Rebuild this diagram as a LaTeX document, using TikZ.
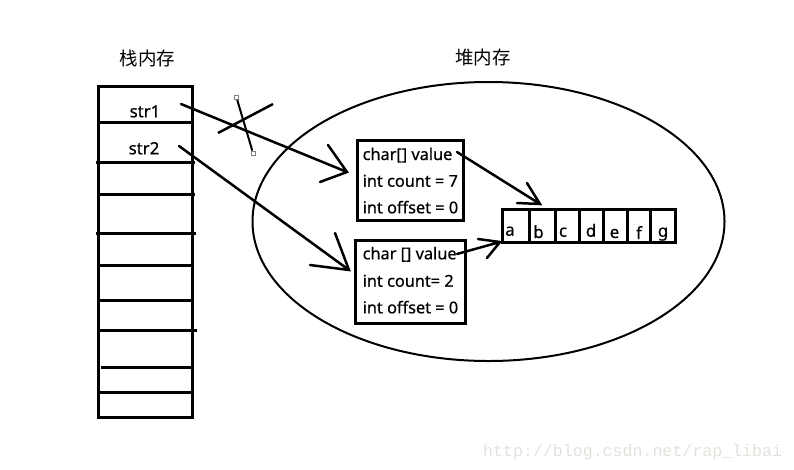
\documentclass[tikz,border=0pt]{standalone}
\usepackage{fontspec}
\setmainfont{Noto Sans}[FakeBold=0.6]
\newfontfamily\cjk{Noto Sans CJK SC}
\newfontfamily\wmono{Liberation Mono}
\definecolor{wmark}{RGB}{226,226,220}
\begin{document}
\begin{tikzpicture}[x=1pt,y=-1pt,
  frame/.style={draw, line width=3pt, inner sep=0pt, outer sep=0pt, anchor=north west},
  sep/.style={line width=3pt},
  shaft/.style={line width=2.5pt, line cap=round},
  field/.style={inner sep=0pt, anchor=base west, font=\fontsize{16.3}{18}\selectfont},
  cell/.style={inner sep=0pt, anchor=base, font=\fontsize{16.8}{18}\selectfont},
  title/.style={inner sep=0pt, font=\cjk\fontsize{18.5}{20}\selectfont},
  handle/.style={draw=gray, line width=0.8pt, fill=white, minimum size=4pt, inner sep=0pt}
]
\useasboundingbox (0,0) rectangle (794,469);

% titles
\node[title] (stacktitle) at (147.5,58) {栈内存};
\node[title] (heaptitle) at (483,57) {堆内存};

% heap ellipse
\draw[line width=2pt] (488.5,221.5) ellipse [x radius=236, y radius=139.5];

% stack
\node[frame, minimum width=94pt, minimum height=331.5pt] (stack) at (98.5,86) {};
\draw[sep] (98,122) -- (192,122);
\draw[sep] (96,162) -- (195,162);
\draw[sep] (98,194) -- (195,194);
\draw[sep] (96,233) -- (196,233);
\draw[sep] (99,265) -- (192,265);
\draw[sep] (99,300) -- (192,300);
\draw[sep] (99,330) -- (197,330);
\draw[sep] (101,367) -- (192,367);
\draw[sep] (99,392) -- (192,392);
\node[cell] (str1) at (145,117.3) {str1};
\node[cell] (str2) at (144,154.3) {str2};

% objects
\node[frame, minimum width=105.5pt, minimum height=80pt] (obj1) at (357.5,140.5) {};
\node[field] (o1a) at (362.5,160) {char[] value};
\node[field] (o1b) at (362.5,186.7) {int count = 7};
\node[field] (o1c) at (362.5,213.3) {int offset = 0};

\node[frame, minimum width=109.5pt, minimum height=83pt] (obj2) at (355.5,240.5) {};
\node[field] (o2a) at (362.5,259.3) {char [] value};
\node[field] (o2b) at (362.5,286.7) {int count= 2};
\node[field] (o2c) at (362.5,313.3) {int offset = 0};

% char array
\node[frame, minimum width=173pt, minimum height=33pt] (arr) at (502.5,209.5) {};
\foreach \x in {529.5,555,579,603.5,627,650.5} \draw[sep] (\x,209.5) -- (\x,242.5);
\node[cell] (ca) at (510,235.7) {a};
\node[cell] (cb) at (538.5,238) {b};
\node[cell] (cc) at (563,236.7) {c};
\node[cell] (cd) at (591,236.7) {d};
\node[cell] (ce) at (614.5,238) {e};
\node[cell] (cf) at (639,239) {f};
\node[cell] (cg) at (663,236.7) {g};

% arrow coordinates
\coordinate (s1) at (181,104);   \coordinate (t1) at (347,172);
\coordinate (h1a) at (328,145);  \coordinate (h1b) at (320,182);
\coordinate (s2) at (179,146);   \coordinate (t2) at (349,270);
\coordinate (h2a) at (335,233);  \coordinate (h2b) at (310,265);
\coordinate (s3) at (457,152);   \coordinate (t3) at (540,204);
\coordinate (h3a) at (527,183);  \coordinate (h3b) at (517,203);
\coordinate (s4) at (457,254);   \coordinate (t4) at (500,242);
\coordinate (h4a) at (478,239);  \coordinate (h4b) at (487,258);

\draw[shaft] (s1) -- (t1) (h1a) -- (t1) -- (h1b);
\draw[shaft] (s2) -- (t2) (h2a) -- (t2) -- (h2b);
\draw[shaft] (s3) -- (t3) (h3a) -- (t3) -- (h3b);
\draw[shaft] (s4) -- (t4) (h4a) -- (t4) -- (h4b);

% cross mark
\coordinate (xa) at (218,133); \coordinate (xb) at (273,104);
\draw[line width=2.5pt] (xa) -- (xb);
\node[handle] (xh1) at (236.5,97.5) {};
\node[handle] (xh2) at (253,153) {};
\draw[line width=2pt] (xh1) -- (xh2);

% watermark
\node[inner sep=0pt, anchor=base west, text=wmark, font=\wmono\fontsize{16.6}{18}\selectfont] (wm) at (483,456) {http://blog.csdn.net/rap\_libai};
\end{tikzpicture}
\end{document}
